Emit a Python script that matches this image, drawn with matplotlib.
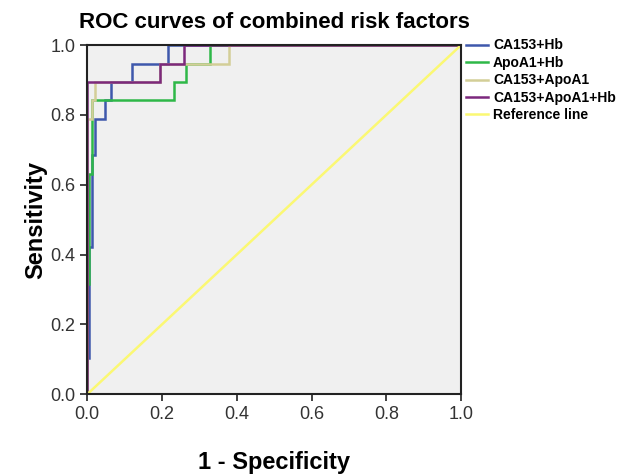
import matplotlib
matplotlib.use("Agg")
import matplotlib.pyplot as plt

# ROC step curves (fpr, sensitivity)
fpr_ca_hb = [0, 0, 0.006, 0.006, 0.014, 0.014, 0.021, 0.021, 0.048, 0.048, 0.063, 0.063,
             0.119, 0.119, 0.217, 0.217, 1.0]
tpr_ca_hb = [0, 0.105, 0.105, 0.421, 0.421, 0.684, 0.684, 0.789, 0.789, 0.842, 0.842, 0.895,
             0.895, 0.947, 0.947, 1.0, 1.0]

fpr_apo_hb = [0, 0, 0.006, 0.006, 0.012, 0.012, 0.231, 0.231, 0.265, 0.265, 0.329, 0.329, 1.0]
tpr_apo_hb = [0, 0.316, 0.316, 0.632, 0.632, 0.842, 0.842, 0.895, 0.895, 0.947, 0.947, 1.0, 1.0]

fpr_ca_apo = [0, 0, 0.012, 0.012, 0.021, 0.021, 0.195, 0.195, 0.38, 0.38, 1.0]
tpr_ca_apo = [0, 0.789, 0.789, 0.842, 0.842, 0.895, 0.895, 0.947, 0.947, 1.0, 1.0]

fpr_all = [0, 0, 0.195, 0.195, 0.259, 0.259, 1.0]
tpr_all = [0, 0.895, 0.895, 0.947, 0.947, 1.0, 1.0]

ref_x = [0, 1]
ref_y = [0, 1]

labels = ["CA153+Hb", "ApoA1+Hb", "CA153+ApoA1", "CA153+ApoA1+Hb", "Reference line"]
colors = ["#3E58AC", "#2EB848", "#D3CE97", "#7C287D", "#FBF873"]
ticks = [0.0, 0.2, 0.4, 0.6, 0.8, 1.0]

plt.rcParams['font.family'] = ['Liberation Sans', 'DejaVu Sans']

fig = plt.figure(figsize=(6.23, 4.75), dpi=100)
ax = fig.add_axes([0.14, 0.17, 0.6, 0.735])
ax.set_facecolor("#F0F0F0")

curves = [(fpr_ca_hb, tpr_ca_hb), (fpr_apo_hb, tpr_apo_hb), (fpr_ca_apo, tpr_ca_apo),
          (fpr_all, tpr_all), (ref_x, ref_y)]
for (x, y), lab, c in zip(curves, labels, colors):
    ax.plot(x, y, color=c, lw=1.8, label=lab, solid_joinstyle='miter')

ax.set_xlim(0, 1)
ax.set_ylim(0, 1)
ax.set_xticks(ticks)
ax.set_yticks(ticks)
ax.set_xticklabels(["%.1f" % t for t in ticks])
ax.set_yticklabels(["%.1f" % t for t in ticks])
ax.tick_params(direction='out', length=5, width=1.3, labelsize=13, colors='#333333')
for s in ax.spines.values():
    s.set_linewidth(1.5)
    s.set_color('#222222')

ax.set_title("ROC curves of combined risk factors", fontsize=16, fontweight='bold', pad=12)
ax.set_xlabel("1 - Specificity", fontsize=17, fontweight='bold', labelpad=20)
ax.set_ylabel("Sensitivity", fontsize=17, fontweight='bold', labelpad=2)

leg = ax.legend(loc='upper left', bbox_to_anchor=(0.998, 1.035), frameon=False,
                prop={'size': 10, 'weight': 'bold'}, handlelength=1.6, handletextpad=0.35,
                labelspacing=0.25, borderaxespad=0)

fig.savefig("out.png", dpi=100)
